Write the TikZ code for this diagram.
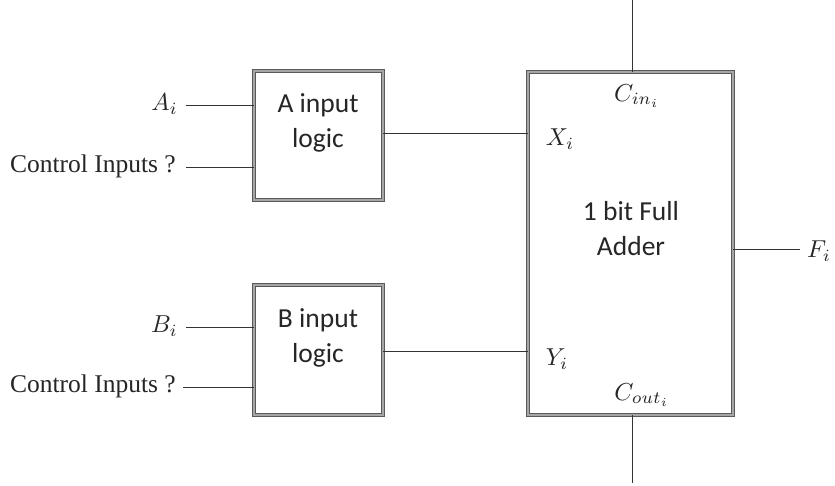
\documentclass[tikz,border=0pt]{standalone}
\usepackage{graphicx}
\usepackage{fontspec}
\setmainfont{Liberation Serif}
\newfontfamily\boxfont{Carlito}
\newcommand{\lblmath}[1]{\scalebox{2.45}{$#1$}}
\begin{document}
\begin{tikzpicture}[x=1pt,y=-1pt,
  blk/.style={draw=black!65, double=black!35, double distance=2pt, line width=0.9pt,
    fill=white, inner sep=0pt, rectangle},
  wire/.style={draw=black!80, line width=0.9pt},
  boxtxt/.style={font=\boxfont\fontsize{27.5}{35}\selectfont, align=center, inner sep=0pt, text=black!85},
  mth/.style={inner sep=0pt, text=black!85},
  ctl/.style={font=\fontsize{25.5}{30}\selectfont, inner sep=0pt, text=black!85}]
\useasboundingbox (0,0) rectangle (835,485);

% blocks
\node[blk, minimum width=129pt, minimum height=129pt] (boxA) at (318.5,135.5) {};
\node[blk, minimum width=129pt, minimum height=130pt] (boxB) at (318.5,350) {};
\node[blk, minimum width=205pt, minimum height=343pt] (add) at (630.5,243.5) {};

% block texts
\node[boxtxt] (ta) at (318,123) {A input\\logic};
\node[boxtxt] (tb) at (318,338) {B input\\logic};
\node[boxtxt] (tf) at (631,229) {1 bit Full\\Adder};

% left labels
\node[mth, anchor=east] (ai) at (178,104) {\lblmath{A_i}};
\node[ctl, anchor=east] (ca) at (176,166) {Control Inputs ?};
\node[mth, anchor=east] (bi) at (178,326) {\lblmath{B_i}};
\node[ctl, anchor=east] (cb) at (176,386) {Control Inputs ?};

% adder inner labels
\node[mth] (cin) at (637,96) {\lblmath{C_{in_i}}};
\node[mth] (xi) at (560,139) {\lblmath{X_i}};
\node[mth] (yi) at (557,359) {\lblmath{Y_i}};
\node[mth] (cout) at (642,395) {\lblmath{C_{out_i}}};
\node[mth, anchor=west] (fi) at (807,251) {\lblmath{F_i}};

% free ends
\coordinate (ai0) at (186,105);
\coordinate (ca0) at (186,167);
\coordinate (bi0) at (186,327);
\coordinate (cb0) at (183,387);
\coordinate (ao) at (383,133);
\coordinate (bo) at (383,351);
\coordinate (top) at (632,0);
\coordinate (bot) at (632,483);
\coordinate (fo) at (800,249);

% wires
\draw[wire] (ai0) -- (ai0 -| boxA.west);
\draw[wire] (ca0) -- (ca0 -| boxA.west);
\draw[wire] (bi0) -- (bi0 -| boxB.west);
\draw[wire] (cb0) -- (cb0 -| boxB.west);
\draw[wire] (ao -| boxA.east) -- (ao -| add.west);
\draw[wire] (bo -| boxB.east) -- (bo -| add.west);
\draw[wire] (top) -- (top |- add.north);
\draw[wire] (top |- add.south) -- (bot);
\draw[wire] (fo -| add.east) -- (fo);
\end{tikzpicture}
\end{document}
